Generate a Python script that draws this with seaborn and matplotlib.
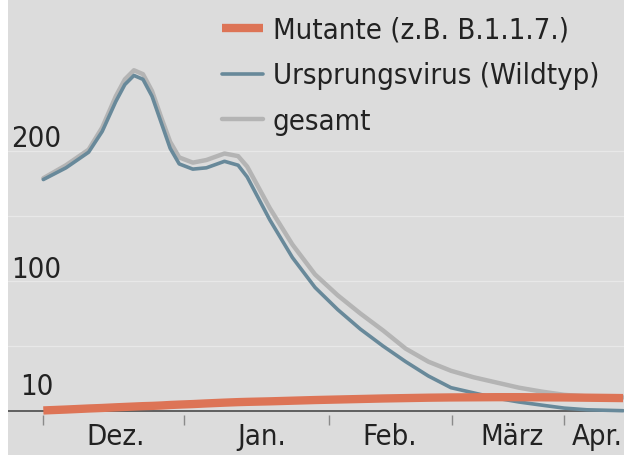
import numpy as np
import matplotlib
matplotlib.use("Agg")
import matplotlib.pyplot as plt
import matplotlib.transforms as mtransforms
import seaborn as sns

#%% data (Tage ab 1. Dez.)
tage = [0, 5, 10, 13, 16, 18, 20, 22, 24, 26, 28, 30, 33, 36, 40, 43, 45, 50, 55, 60, 65, 70,
        75, 80, 85, 90, 95, 100, 105, 110, 115, 120, 128]
wildtyp = [178, 187, 199, 215, 238, 251, 258, 255, 242, 222, 202, 190, 186, 187, 192, 189, 180, 147,
           118, 95, 78, 63, 50, 38, 27, 18, 14, 10, 7, 4.6, 2.3, 1, 0.3]
gesamt = [179, 189, 201, 218, 242, 255, 262, 259, 246, 226, 207, 195, 191, 193, 198, 196, 188, 156,
          128, 105, 89, 75, 62, 48, 38, 31, 26, 22, 18, 15, 12.5, 11.3, 10.5]
mutante = [0.5, 1.2, 2, 2.4, 2.9, 3.2, 3.5, 3.8, 4.0, 4.3, 4.7, 5, 5.4, 5.9, 6.5, 6.9, 7.1, 7.5,
           8, 8.5, 8.9, 9.3, 9.7, 10, 10.3, 10.5, 10.6, 10.7, 10.7, 10.6, 10.5, 10.3, 10]

monatsgrenzen = [0, 31, 63, 90.2, 115]
monat_pos = [16, 48.3, 76.4, 103.4, 122.3]
monat_namen = ['Dez.', 'Jan.', 'Feb.', 'März', 'Apr.']
y_grid = [50, 100, 150, 200]
y_labels = [10, 100, 200]

#%% style
bg = '#dcdcdc'
sns.set_style('white')
plt.rcParams['font.family'] = ['DejaVu Sans']
plt.rcParams['font.stretch'] = 'condensed'

fig = plt.figure(figsize=(6.24, 4.55), dpi=100, facecolor=bg)
fig.patches.append(plt.Rectangle((0, 0), 8 / 624, 1, transform=fig.transFigure,
                                 facecolor='white', edgecolor='none'))
ax = fig.add_axes([8 / 624, 40 / 455, 616 / 624, 415 / 455])
ax.set_facecolor(bg)

sns.lineplot(x=tage, y=mutante, ax=ax, color='#dd7456', lw=6, zorder=4,
             label='Mutante (z.B. B.1.1.7.)', solid_capstyle='butt')
sns.lineplot(x=tage, y=wildtyp, ax=ax, color='#68899a', lw=2.6, zorder=3,
             label='Ursprungsvirus (Wildtyp)')
sns.lineplot(x=tage, y=gesamt, ax=ax, color='#b4b4b4', lw=3.2, zorder=2,
             label='gesamt')

ax.axhline(0, color='#555555', lw=1.3, zorder=1)

ax.set_xlim(-7.8, 128.2)
ax.set_ylim(-3, 316)

# grid
ax.set_yticks(y_grid)
ax.yaxis.grid(True, color='#e8e8e8', lw=0.9)
ax.tick_params(axis='y', length=0, labelleft=False)
for s in ax.spines.values():
    s.set_visible(False)

# y labels above values
trans = mtransforms.blended_transform_factory(ax.transAxes, ax.transData)
trans = mtransforms.offset_copy(trans, fig=fig, y=2.5, units='points')
for v in y_labels:
    ax.text(0.046, v, str(v), transform=trans, ha='center', va='baseline',
            fontsize=21, color='#222222')

# x ticks
ax.set_xticks(monatsgrenzen)
ax.set_xticklabels([])
ax.set_xticks(monat_pos, minor=True)
ax.set_xticklabels(monat_namen, minor=True, fontsize=21, color='#222222')
ax.tick_params(axis='x', which='major', direction='out', length=7, width=1,
               color='#8a8a8a', bottom=True)
ax.tick_params(axis='x', which='minor', length=0, pad=6)
ax.set_xlabel('')
ax.set_ylabel('')

leg = ax.legend(loc='upper left', bbox_to_anchor=(0.347, 0.96), frameon=False,
                fontsize=21, handlelength=1.4, handletextpad=0.35,
                labelspacing=0.6, borderaxespad=0, borderpad=0)
for t in leg.get_texts():
    t.set_color('#222222')

fig.savefig('out.png', dpi=100, facecolor=bg)
